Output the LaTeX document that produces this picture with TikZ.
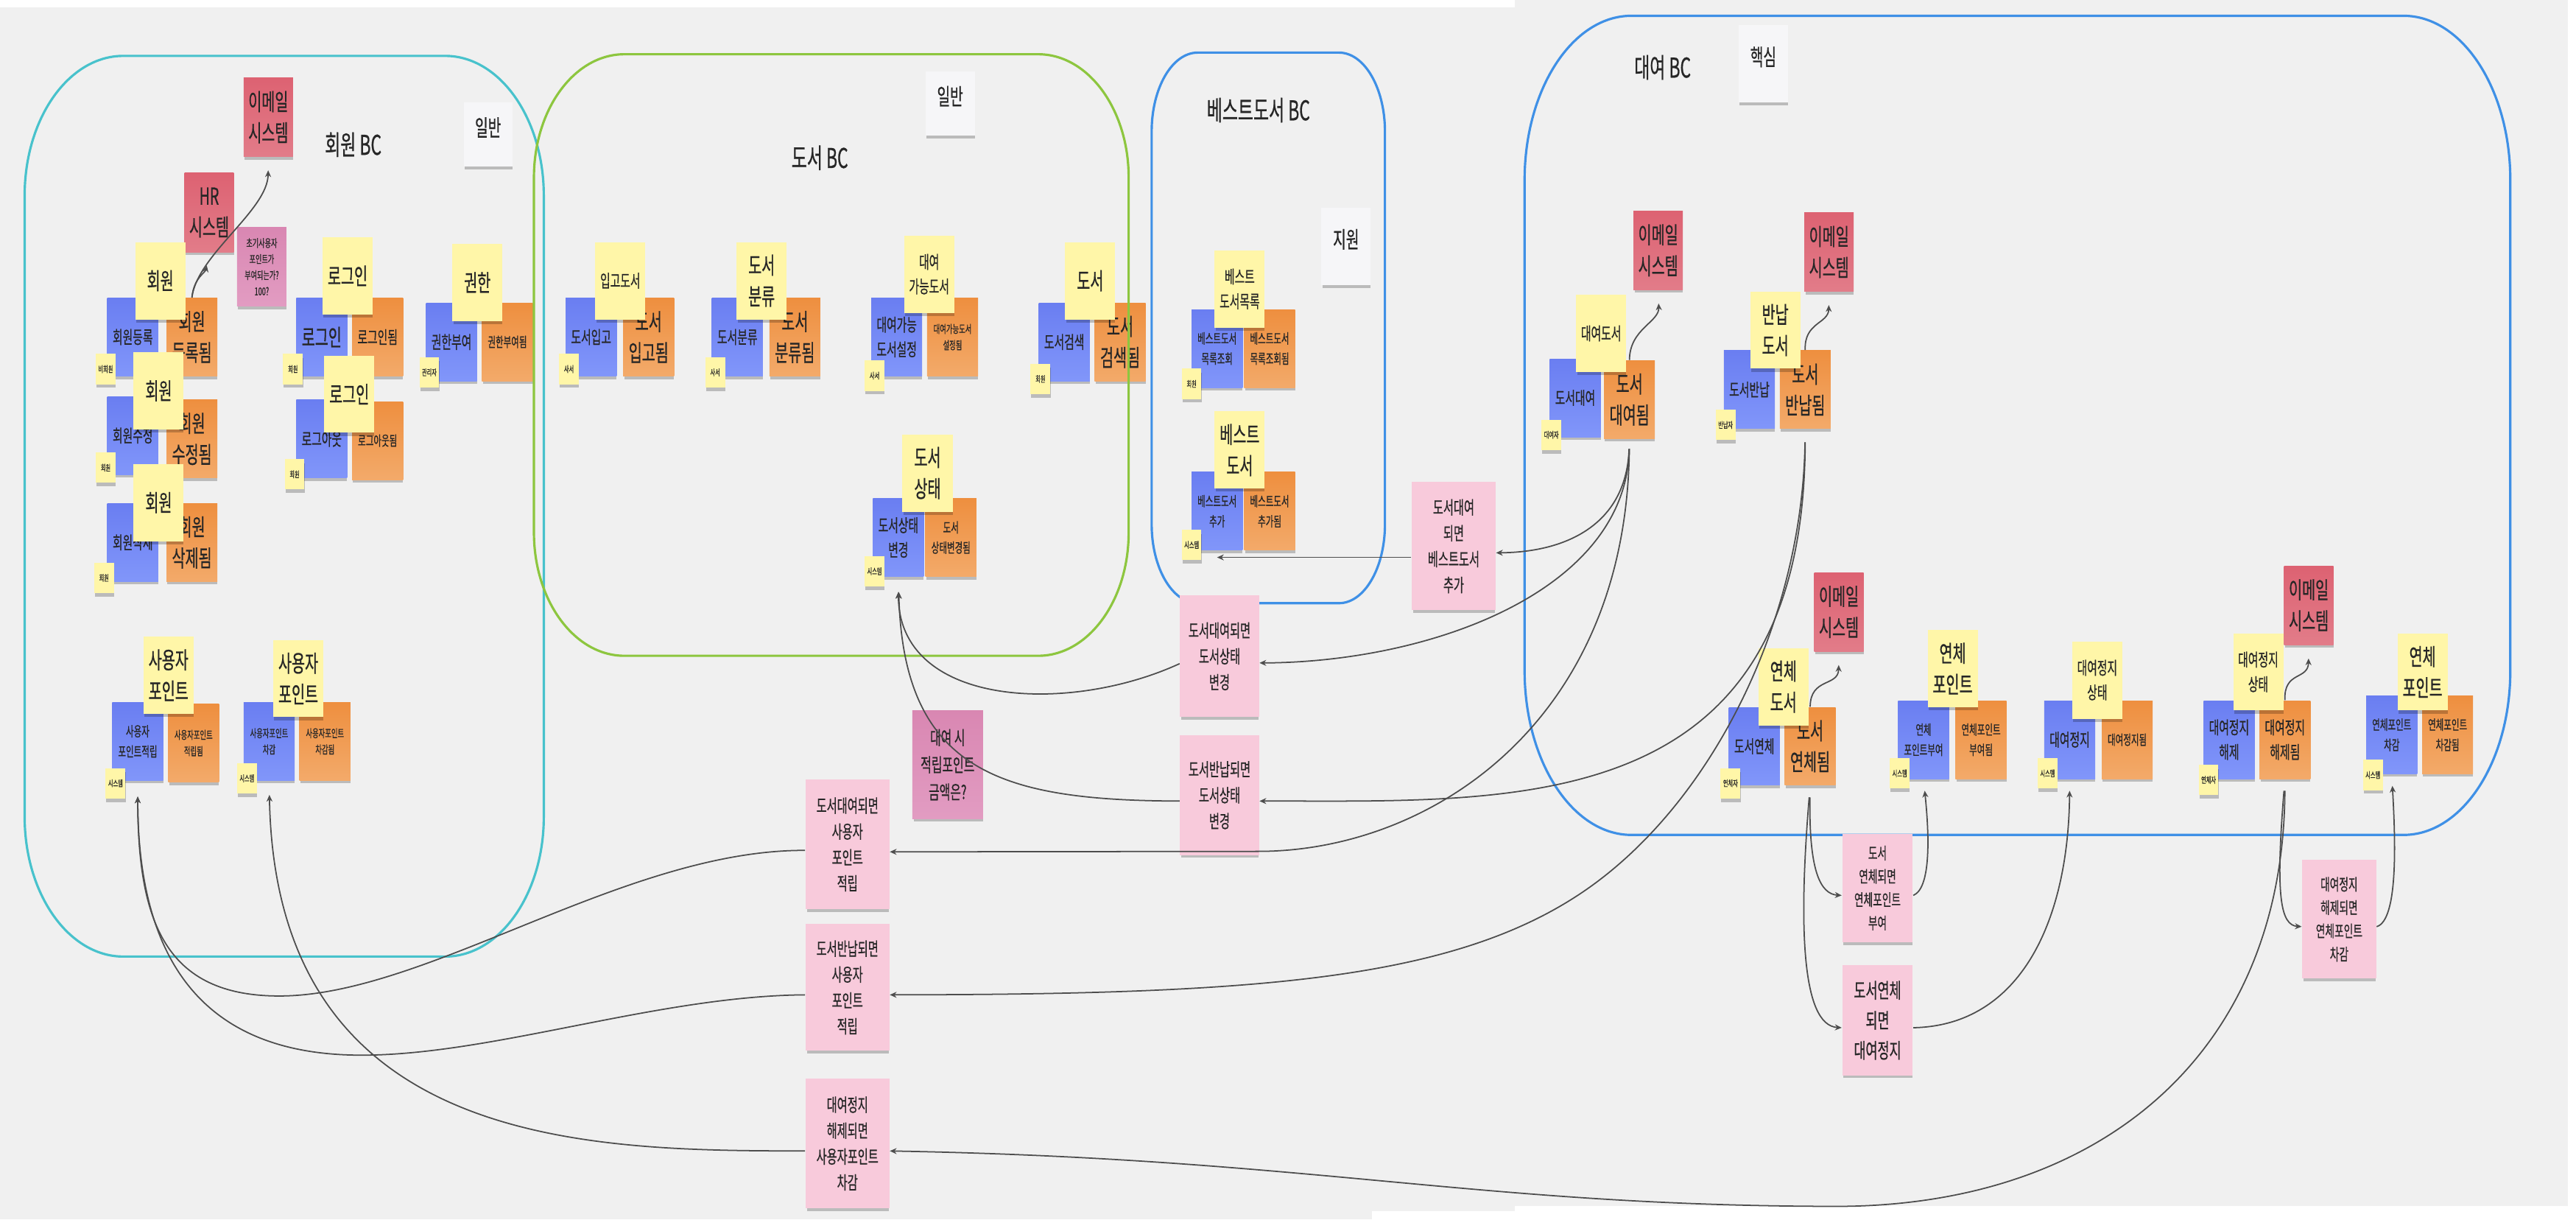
\documentclass[tikz,border=0pt]{standalone}
\usepackage{fontspec}
\setmainfont{Noto Sans CJK KR}[FakeStretch=0.62, FakeBold=0.6]
\usetikzlibrary{arrows.meta,shadows}
\definecolor{bgC}{HTML}{F0F0F0}
\definecolor{cmdA}{HTML}{6A7EF1}
\definecolor{cmdB}{HTML}{8196FA}
\definecolor{evtA}{HTML}{EE8F3F}
\definecolor{evtB}{HTML}{F3AA6A}
\definecolor{aggC}{HTML}{FFF6A8}
\definecolor{extA}{HTML}{DD6272}
\definecolor{extB}{HTML}{E27C89}
\definecolor{polC}{HTML}{F8CADB}
\definecolor{qstA}{HTML}{D987B2}
\definecolor{qstB}{HTML}{E29CC2}
\definecolor{labC}{HTML}{F6F6F8}
\definecolor{txtC}{HTML}{262626}
\definecolor{lineC}{HTML}{4D4D4D}
\definecolor{tealC}{HTML}{48C2CC}
\definecolor{greenC}{HTML}{8DC63F}
\definecolor{blueC}{HTML}{3F90E6}
\newdimen\stu \stu=0.2231mm
\newcommand\szBC{\fontsize{10.5}{13}\selectfont}
\newcommand\szLab{\fontsize{8.8}{11}\selectfont}
\newcommand\szBig{\fontsize{9}{12}\selectfont}
\newcommand\szMed{\fontsize{6.8}{9.5}\selectfont}
\newcommand\szSm{\fontsize{5.3}{7.8}\selectfont}
\newcommand\szXs{\fontsize{4.3}{6.3}\selectfont}
\newcommand\szQ{\fontsize{4.2}{6.2}\selectfont}
\newcommand\szAct{\fontsize{3.3}{4}\selectfont}
\newcommand\szPol{\fontsize{7}{10}\selectfont}
\newcommand\szPolB{\fontsize{8}{11.6}\selectfont}
\newcommand\szPolS{\fontsize{6.3}{9}\selectfont}
\newcommand\szMauve{\fontsize{7.3}{10.5}\selectfont}
\newcommand\drawbc[7]{%
 \draw[draw=#7, line width=0.9pt]
  ({#1+#5},#2) -- ({#3-#5},#2)
  .. controls ({#3-0.4477*#5},#2) and (#3,{#2+0.4477*#6}) .. (#3,{#2+#6})
  -- (#3,{#4-#6})
  .. controls (#3,{#4-0.4477*#6}) and ({#3-0.4477*#5},#4) .. ({#3-#5},#4)
  -- ({#1+#5},#4)
  .. controls ({#1+0.4477*#5},#4) and (#1,{#4-0.4477*#6}) .. (#1,{#4-#6})
  -- (#1,{#2+#6})
  .. controls (#1,{#2+0.4477*#6}) and ({#1+0.4477*#5},#2) .. cycle;}
\begin{document}
\begin{tikzpicture}[x=0.2231mm, y=-0.2231mm,
  stk/.style={inner sep=0pt, align=center, text=txtC, anchor=north west,
     drop shadow={shadow xshift=0.2pt, shadow yshift=-1.5pt, opacity=0.22, fill=black, shadow scale=0.98}},
  cmd/.style={stk, top color=cmdA, bottom color=cmdB, minimum width=31*\stu, minimum height=47.5*\stu},
  evt/.style={stk, top color=evtA, bottom color=evtB, minimum width=31*\stu, minimum height=47.5*\stu},
  agg/.style={stk, fill=aggC, minimum width=30.5*\stu, minimum height=47*\stu},
  ext/.style={stk, top color=extA, bottom color=extB, minimum width=30*\stu, minimum height=48*\stu, font=\szBig},
  act/.style={stk, fill=aggC, minimum width=12*\stu, minimum height=18.5*\stu, font=\szAct},
  pol/.style={stk, fill=polC},
  qst/.style={stk, top color=qstA, bottom color=qstB},
  lab/.style={stk, fill=labC, font=\szLab, text depth=6pt},
  bclab/.style={text=txtC, font=\szBC, inner sep=0pt},
  conn/.style={draw=lineC, line width=0.5pt, -{Stealth[length=2.6pt,width=2.3pt]}}
]
\useasboundingbox (0,0) rectangle (1568,742);
\fill[bgC] (0,0) rectangle (1568,742);
\fill[white] (0,0) rectangle (922,4.5);
\fill[white] (1563,0) rectangle (1568,742);
\fill[white] (835,737) rectangle (1568,742);
\fill[white] (922,734) rectangle (1568,742);

% ---------- 회원 BC ----------
\node[ext] (mEmail) at (148,47) {이메일\\시스템};
\node[ext] (mHR) at (112,105) {HR\\시스템};
\node[qst, minimum width=30*\stu, minimum height=48*\stu, font=\szQ] (mQ) at (144,138) {초기사용자\\포인트가\\부여되는가?\\100?};
\node[cmd, font=\szMed] (mC1) at (65,181) {회원등록};
\node[evt, font=\szBig] (mE1) at (101,181) {회원\\등록됨};
\node[agg, font=\szBig] (mG1) at (82,147) {회원};
\node[act] (mA1) at (58,215) {비회원};
\node[cmd, font=\szMed] (mC2) at (65,241) {회원수정};
\node[evt, font=\szBig] (mE2) at (101,243) {회원\\수정됨};
\node[agg, font=\szBig] (mG2) at (81,214) {회원};
\node[act] (mA2) at (58,275) {회원};
\node[cmd, font=\szMed] (mC3) at (65,306) {회원삭제};
\node[evt, font=\szBig] (mE3) at (101,306) {회원\\삭제됨};
\node[agg, font=\szBig] (mG3) at (81,282) {회원};
\node[act] (mA3) at (57,342) {회원};
\node[cmd, font=\szBig] (lC1) at (180,181) {로그인};
\node[evt, font=\szMed] (lE1) at (214,181) {로그인됨};
\node[agg, font=\szBig] (lG1) at (196,144) {로그인};
\node[act] (lA1) at (172,215) {회원};
\node[cmd, font=\szMed] (lC2) at (180,243) {로그아웃};
\node[evt, font=\szSm] (lE2) at (214,244) {로그아웃됨};
\node[agg, font=\szBig] (lG2) at (197,216) {로그인};
\node[act] (lA2) at (173,279) {회원};
\node[cmd, font=\szMed] (aC) at (259,184) {권한부여};
\node[evt, font=\szSm] (aE) at (293,184) {권한부여됨};
\node[agg, font=\szBig] (aG) at (275,148) {권한};
\node[act] (aA) at (255,217) {관리자};
\node[cmd, font=\szSm] (pC1) at (68,427) {사용자\\포인트적립};
\node[evt, font=\szXs] (pE1) at (102,428) {사용자포인트\\적립됨};
\node[agg, font=\szBig] (pG1) at (87,387) {사용자\\포인트};
\node[act] (pA1) at (64,467) {시스템};
\node[cmd, font=\szXs] (pC2) at (148,427) {사용자포인트\\차감};
\node[evt, font=\szXs] (pE2) at (182,427) {사용자포인트\\차감됨};
\node[agg, font=\szBig] (pG2) at (166,389) {사용자\\포인트};
\node[act] (pA2) at (144,464) {시스템};

% ---------- 도서 BC ----------
\node[cmd, font=\szMed] (dC1) at (344,181) {도서입고};
\node[evt, font=\szBig] (dE1) at (379,181) {도서\\입고됨};
\node[agg, font=\szMed] (dG1) at (362,147) {입고도서};
\node[act] (dA1) at (340,215) {사서};
\node[cmd, font=\szMed] (dC2) at (433,181) {도서분류};
\node[evt, font=\szBig] (dE2) at (468,181) {도서\\분류됨};
\node[agg, font=\szBig] (dG2) at (448,147) {도서\\분류};
\node[act] (dA2) at (429,217) {사서};
\node[cmd, font=\szMed] (dC3) at (530,181) {대여가능\\도서설정};
\node[evt, font=\szXs] (dE3) at (564,181) {대여가능도서\\설정됨};
\node[agg, font=\szMed] (dG3) at (550,143) {대여\\가능도서};
\node[act] (dA3) at (526,219) {사서};
\node[cmd, font=\szMed] (dC4) at (632,184) {도서검색};
\node[evt, font=\szBig] (dE4) at (666,184) {도서\\검색됨};
\node[agg, font=\szBig] (dG4) at (648,147) {도서};
\node[act] (dA4) at (627,221) {회원};
\node[cmd, font=\szMed] (dC) at (531,303) {도서상태\\변경};
\node[evt, font=\szSm] (dE) at (563,303) {도서\\상태변경됨};
\node[agg, font=\szBig] (dG) at (549,264) {도서\\상태};
\node[act] (dA) at (526,338) {시스템};

% ---------- 베스트도서 BC ----------
\node[cmd, font=\szSm] (bC1) at (725,188) {베스트도서\\목록조회};
\node[evt, font=\szSm] (bE1) at (757,188) {베스트도서\\목록조회됨};
\node[agg, font=\szMed] (bG1) at (739,152) {베스트\\도서목록};
\node[act] (bA1) at (719,224) {회원};
\node[cmd, font=\szSm] (bC2) at (725,287) {베스트도서\\추가};
\node[evt, font=\szSm] (bE2) at (757,287) {베스트도서\\추가됨};
\node[agg, font=\szBig] (bG2) at (739,250) {베스트\\도서};
\node[act] (bA2) at (719,322) {시스템};

% ---------- 대여 BC ----------
\node[ext] (rEmail1) at (994,128) {이메일\\시스템};
\node[ext] (rEmail2) at (1098,129) {이메일\\시스템};
\node[cmd, font=\szMed] (rC1) at (943,218) {도서대여};
\node[evt, font=\szBig] (rE1) at (976,219) {도서\\대여됨};
\node[agg, font=\szMed] (rG1) at (959,179) {대여도서};
\node[act] (rA1) at (938,255) {대여자};
\node[cmd, font=\szMed] (rC2) at (1049,213) {도서반납};
\node[evt, font=\szBig] (rE2) at (1083,213) {도서\\반납됨};
\node[agg, font=\szBig] (rG2) at (1065,177) {반납\\도서};
\node[act] (rA2) at (1044,249) {반납자};
\node[ext] (rEmail3) at (1104,348) {이메일\\시스템};
\node[cmd, font=\szMed] (oC1) at (1052,430) {도서연체};
\node[evt, font=\szBig] (oE1) at (1086,430) {도서\\연체됨};
\node[agg, font=\szBig] (oG1) at (1070,394) {연체\\도서};
\node[act] (oA1) at (1047,467) {연체자};
\node[cmd, font=\szSm] (oC2) at (1155,426) {연체\\포인트부여};
\node[evt, font=\szSm] (oE2) at (1190,426) {연체포인트\\부여됨};
\node[agg, font=\szBig] (oG2) at (1173,383) {연체\\포인트};
\node[act] (oA2) at (1150,461) {시스템};
\node[cmd, font=\szMed] (sC1) at (1244,426) {대여정지};
\node[evt, font=\szSm] (sE1) at (1279,426) {대여정지됨};
\node[agg, font=\szMed] (sG1) at (1261,390) {대여정지\\상태};
\node[act] (sA1) at (1240,461) {시스템};
\node[ext] (rEmail4) at (1390,344) {이메일\\시스템};
\node[cmd, font=\szMed] (sC2) at (1341,426) {대여정지\\해제};
\node[evt, font=\szMed] (sE2) at (1375,426) {대여정지\\해제됨};
\node[agg, font=\szMed] (sG2) at (1359,385) {대여정지\\상태};
\node[act] (sA2) at (1338,465) {연체자};
\node[cmd, font=\szSm] (sC3) at (1440,423) {연체포인트\\차감};
\node[evt, font=\szSm] (sE3) at (1474,423) {연체포인트\\차감됨};
\node[agg, font=\szBig] (sG3) at (1459,385) {연체\\포인트};
\node[act] (sA3) at (1438,462) {시스템};

% ---------- BC borders ----------
\drawbc{15}{34}{331}{582}{60}{85}{tealC}
\drawbc{325}{33}{687}{399}{55}{75}{greenC}
\drawbc{701}{32}{843}{367}{28}{48}{blueC}
\drawbc{928}{9.6}{1528}{508}{65}{100}{blueC}

% ---------- labels ----------
\node[bclab] (lbM) at (215,88) {회원 BC};
\node[bclab] (lbD) at (499,96) {도서 BC};
\node[bclab] (lbB) at (766,67) {베스트도서 BC};
\node[bclab] (lbR) at (1012,41) {대여 BC};
\node[lab, minimum width=29.5*\stu, minimum height=39*\stu] (sd1) at (282,62) {일반};
\node[lab, minimum width=30*\stu, minimum height=39*\stu] (sd2) at (563,43) {일반};
\node[lab, minimum width=30*\stu, minimum height=47*\stu] (sd3) at (804,126) {지원};
\node[lab, minimum width=30*\stu, minimum height=47*\stu] (sd4) at (1058,15) {핵심};

% ---------- policies ----------
\node[pol, minimum width=51*\stu, minimum height=78*\stu, font=\szPol] (bPol) at (859,293) {도서대여\\되면\\베스트도서\\추가};
\node[pol, minimum width=48*\stu, minimum height=74*\stu, font=\szPol] (dP1) at (718,362) {도서대여되면\\도서상태\\변경};
\node[pol, minimum width=48*\stu, minimum height=73*\stu, font=\szPol] (dP2) at (718,447) {도서반납되면\\도서상태\\변경};
\node[qst, minimum width=43*\stu, minimum height=66*\stu, font=\szMauve] (mQ2) at (555,432) {대여 시\\적립포인트\\금액은?};
\node[pol, minimum width=51*\stu, minimum height=79*\stu, font=\szPol] (uP1) at (490,474) {도서대여되면\\사용자\\포인트\\적립};
\node[pol, minimum width=51*\stu, minimum height=77*\stu, font=\szPol] (uP2) at (490,562) {도서반납되면\\사용자\\포인트\\적립};
\node[pol, minimum width=51*\stu, minimum height=79*\stu, font=\szPol] (zP) at (490,656) {대여정지\\해제되면\\사용자포인트\\차감};
\node[pol, minimum width=43*\stu, minimum height=66*\stu, font=\szPolS] (oP1) at (1121,507) {도서\\연체되면\\연체포인트\\부여};
\node[pol, minimum width=43*\stu, minimum height=67*\stu, font=\szPolB] (oP2) at (1121,587) {도서연체\\되면\\대여정지};
\node[pol, minimum width=45*\stu, minimum height=72*\stu, font=\szPolS] (sP) at (1401,523) {대여정지\\해제되면\\연체포인트\\차감};

% ---------- connectors ----------
\draw[conn, shorten >=8*\stu] (mE1.north) .. controls (120,155) and (163,128) .. (mEmail.south);
\draw[conn, shorten >=8*\stu] (mE1.north) .. controls (118,169) and (125,166) .. (mHR.south);
\draw[conn, shorten >=8*\stu] (rE1.north) .. controls (992,200) and (1010,196) .. (rEmail1.south);
\draw[conn, shorten >=8*\stu] (rE2.north) .. controls (1098,196) and (1113,197) .. (rEmail2.south);
\draw[conn, shorten >=8*\stu] (oE1.north) .. controls (1102,412) and (1119,418) .. (rEmail3.south);
\draw[conn, shorten >=8*\stu] (sE2.north) .. controls (1390,408) and (1405,414) .. (rEmail4.south);

\draw[conn, shorten <=6*\stu] (rE1.south) .. controls (990,318) and (955,336) .. ([yshift=-0.9mm]bPol.east);
\path (bC2.south) ++(0,4) coordinate (bArr);
\draw[conn] (bPol.west |- bArr) -- (bArr);
\draw[conn, shorten <=6*\stu] (rE1.south) .. controls (990,360) and (870,403) .. ([yshift=-0.9mm]dP1.east);
\draw[conn, shorten >=9*\stu] ([yshift=-1mm]dP1.west) .. controls (650,435) and (547,430) .. (dC.south);
\draw[conn, shorten <=6*\stu] (rE1.south) .. controls (990,440) and (870,518) .. (766,518) -- ([yshift=-1mm]uP1.east);
\draw[conn, shorten >=9.5*\stu] ([yshift=-0.8mm]uP1.west) .. controls (380,517) and (260,606) .. (170,606) .. controls (100,606) and (84,560) .. (pC1.south);
\draw[conn, shorten <=8*\stu] (rE2.south) .. controls (1098,500) and (920,487) .. ([yshift=-0.8mm]dP2.east);
\draw[conn, shorten >=9*\stu] ([yshift=-0.8mm]dP2.west) .. controls (610,487) and (550,470) .. (dC.south);
\draw[conn, shorten <=8*\stu] (rE2.south) .. controls (1097,380) and (1040,493) .. (960,545) .. controls (880,597) and (760,605) .. ([yshift=-1mm]uP2.east);
\draw[conn, shorten >=9.5*\stu] ([yshift=-1mm]uP2.west) .. controls (400,606) and (300,642) .. (220,642) .. controls (120,642) and (84,580) .. (pC1.south);
\draw[conn, shorten <=7*\stu] (sE2.south) .. controls (1390,640) and (1280,733) .. (1120,734) .. controls (900,734) and (800,705) .. ([yshift=-1mm]zP.east);
\draw[conn, shorten >=8.5*\stu] ([yshift=-1mm]zP.west) .. controls (360,700) and (168,700) .. (pC2.south);
\draw[conn, shorten <=7*\stu] (oE1.south) .. controls (1101,530) and (1108,544) .. ([yshift=-1mm]oP1.west);
\draw[conn, shorten >=7*\stu] ([yshift=-1mm]oP1.east) .. controls (1176,540) and (1174,505) .. (oC2.south);
\draw[conn, shorten <=7*\stu] (oE1.south) .. controls (1095,560) and (1096,624) .. ([yshift=-1mm]oP2.west);
\draw[conn, shorten >=7*\stu] ([yshift=-1mm]oP2.east) .. controls (1230,624) and (1259,560) .. (sC1.south);
\draw[conn, shorten <=7*\stu] (sE2.south) .. controls (1385,545) and (1388,563) .. ([yshift=-1mm]sP.west);
\draw[conn, shorten >=7*\stu] ([yshift=-1mm]sP.east) .. controls (1460,560) and (1458,510) .. (sC3.south);
\end{tikzpicture}
\end{document}
